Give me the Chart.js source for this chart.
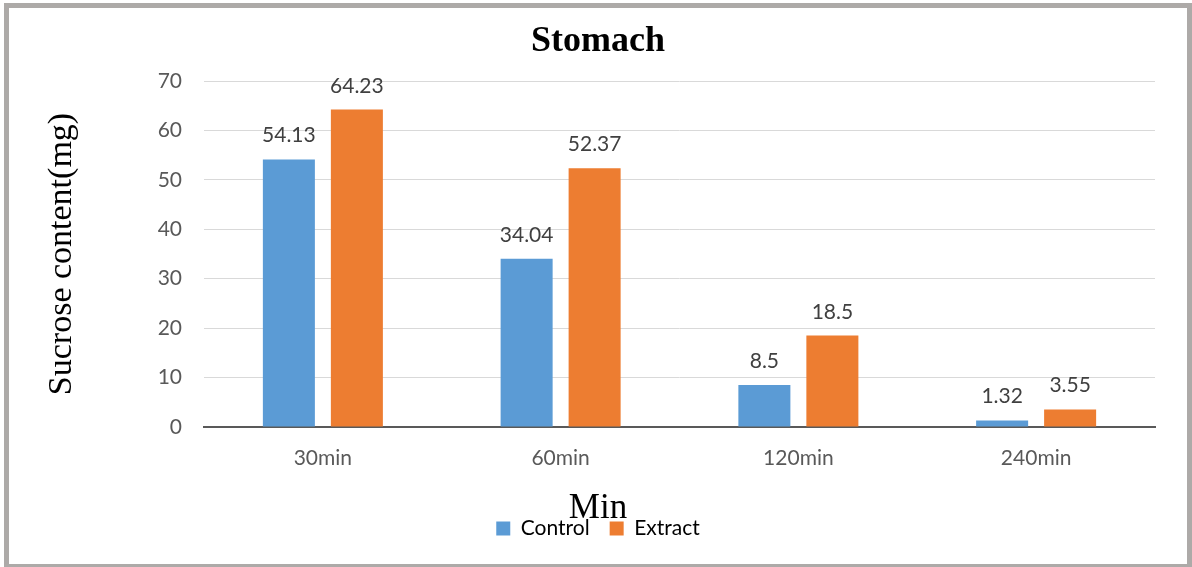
<!DOCTYPE html>
<html>
<head>
<meta charset="utf-8">
<script src="https://cdn.jsdelivr.net/npm/chart.js@4/dist/chart.umd.min.js"></script>
<style>
    html, body { margin: 0; padding: 0; background: #fff; }
    #wrap { position: relative; width: 1192px; height: 567px; overflow: hidden; }
    #frame {
        position: absolute; left: 4px; top: 3px; width: 1188px; height: 566px;
        border: 5px solid #ADAAA8; box-sizing: border-box; pointer-events: none;
    }
</style>
</head>
<body>
<div id="wrap">
    <canvas id="stomach-chart" width="1192" height="567"></canvas>
    <div id="frame"></div>
</div>
<script>
/* Stomach 수크로스 함량 차트 */

const categories = ['30min', '60min', '120min', '240min'];
const controlValues = [54.13, 34.04, 8.5, 1.32];
const extractValues = [64.23, 52.37, 18.5, 3.55];
const controlLabels = ['54.13', '34.04', '8.5', '1.32'];
const extractLabels = ['64.23', '52.37', '18.5', '3.55'];
const yTicks = [0, 10, 20, 30, 40, 50, 60, 70];

const labelFont = "Lato, 'Open Sans', sans-serif";
const serifFont = "'Liberation Serif', 'Times New Roman', serif";

// 막대 위 값 표시
const valueLabels = {
    id: 'valueLabels',
    afterDatasetsDraw(chart) {
        const ctx = chart.ctx;
        const texts = [controlLabels, extractLabels];
        ctx.save();
        ctx.font = '21px ' + labelFont;
        ctx.fillStyle = '#404040';
        ctx.textAlign = 'center';
        ctx.textBaseline = 'alphabetic';
        chart.data.datasets.forEach((ds, di) => {
            chart.getDatasetMeta(di).data.forEach((bar, i) => {
                ctx.fillText(texts[di][i], bar.x, bar.y - 17);
            });
        });
        ctx.restore();
    }
};

const ctx = document.getElementById('stomach-chart').getContext('2d');
const chart = new Chart(ctx, {
    type: 'bar',
    data: {
        labels: categories,
        datasets: [{
            label: 'Control',
            data: controlValues,
            backgroundColor: '#5B9BD5',
            barPercentage: 0.765,
            categoryPercentage: 0.572,
        }, {
            label: 'Extract',
            data: extractValues,
            backgroundColor: '#ED7D31',
            barPercentage: 0.765,
            categoryPercentage: 0.572,
        }]
    },
    options: {
        responsive: false,
        animation: false,
        devicePixelRatio: 1,
        layout: { padding: { left: 14, right: 10, top: 0, bottom: 18 } },
        scales: {
            x: {
                grid: { display: false },
                border: { display: true, color: '#595959', width: 2 },
                ticks: { color: '#595959', font: { family: labelFont, size: 21 }, padding: 11 },
                afterFit: s => { s.height = 60; }
            },
            y: {
                min: 0, max: 70,
                afterBuildTicks: s => { s.ticks = yTicks.map(v => ({ value: v })); },
                grid: {
                    drawTicks: false,
                    color: c => c.tick.value === 0 ? 'rgba(0,0,0,0)' : '#D9D9D9',
                    lineWidth: 1
                },
                border: { display: false },
                ticks: { color: '#595959', font: { family: labelFont, size: 21 }, padding: 22 },
                title: {
                    display: true,
                    text: 'Sucrose content(mg)',
                    color: '#000',
                    font: { family: serifFont, size: 34, lineHeight: 1 },
                    padding: { top: 31, bottom: 0 }
                },
                afterFit: s => { s.width = 190; }
            },
            y2: {
                position: 'right',
                display: true,
                grid: { display: false },
                border: { display: false },
                ticks: { display: false },
                afterFit: s => { s.width = 27; }
            }
        },
        plugins: {
            title: {
                display: true,
                text: 'Stomach',
                color: '#000',
                font: { family: serifFont, size: 36, weight: 'bold', lineHeight: 1 },
                padding: { top: 24, bottom: 21 }
            },
            legend: {
                position: 'bottom',
                title: {
                    display: true,
                    text: 'Min',
                    color: '#000',
                    font: { family: serifFont, size: 35, lineHeight: 1 },
                    padding: { top: 4, bottom: -28 }
                },
                labels: {
                    color: '#000',
                    font: { family: labelFont, size: 21 },
                    boxWidth: 14,
                    boxHeight: 14,
                    padding: 20
                }
            },
            tooltip: { enabled: false }
        }
    },
    plugins: [valueLabels]
});
</script>
</body>
</html>
